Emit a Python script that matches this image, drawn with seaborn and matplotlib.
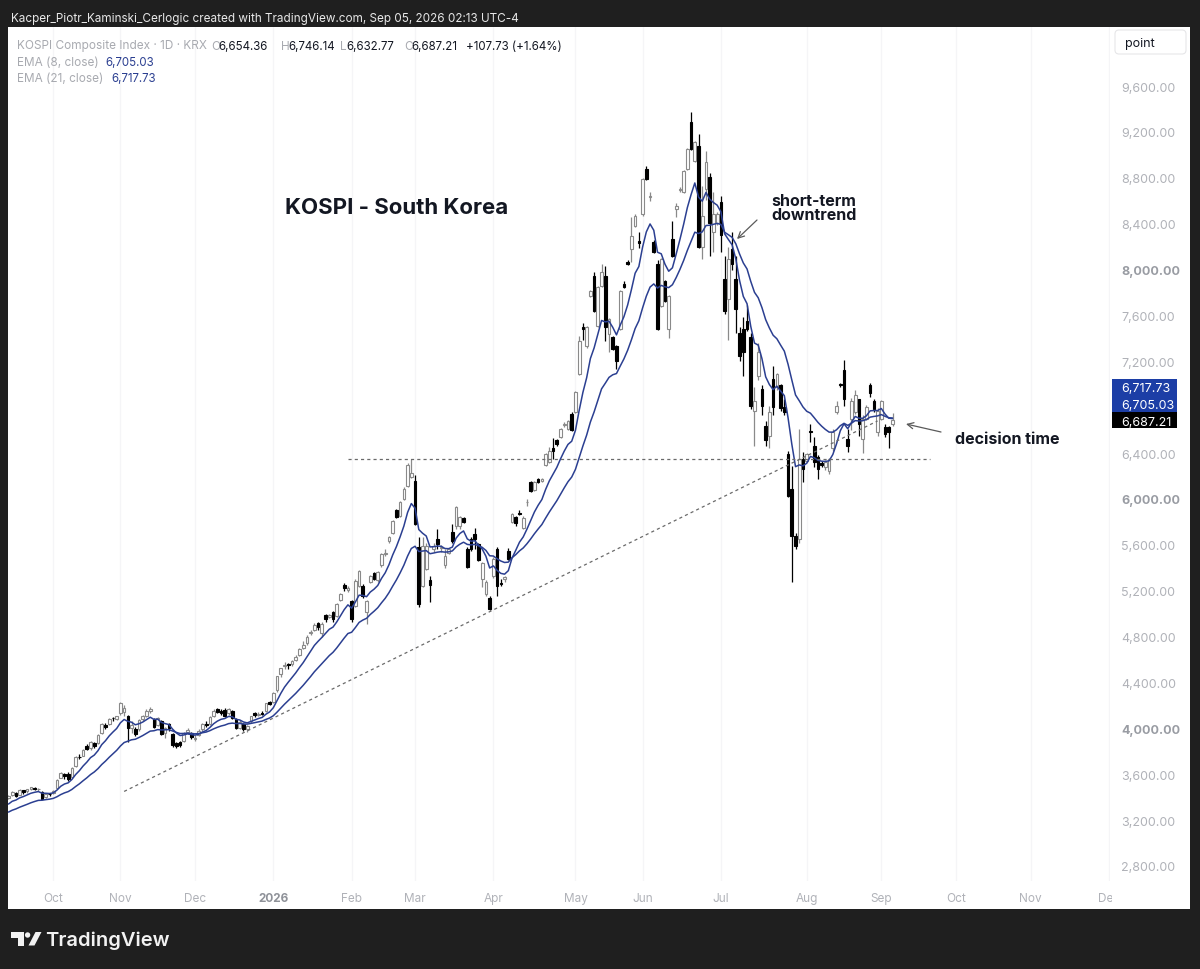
import numpy as np
import pandas as pd
import matplotlib
matplotlib.use("Agg")
import matplotlib.pyplot as plt
import seaborn as sns
from matplotlib.patches import Rectangle, Circle, Polygon, FancyBboxPatch
from matplotlib.transforms import IdentityTransform

W, H = 1200, 970

# ---------------- data ----------------
start_date = "2025-09-15"
axis_end_date = "2026-12-31"
krx_holidays = ["2025-10-03", "2025-10-06", "2025-10-07", "2025-10-08", "2025-10-09",
                "2025-12-25", "2025-12-31", "2026-01-01", "2026-02-16", "2026-02-17",
                "2026-02-18", "2026-03-02", "2026-05-01", "2026-05-05", "2026-05-25",
                "2026-06-03", "2026-08-17", "2026-09-24", "2026-09-25", "2026-10-05",
                "2026-10-09", "2026-12-25", "2026-12-31"]

opens = [3390, 3420, 3440, 3420, 3460, 3450, 3475, 3480, 3470, 3445, 3400, 3430,
         3440, 3480, 3570, 3600, 3600, 3580, 3670, 3750, 3760, 3850, 3830, 3870, 3870, 3960, 4030, 4040, 4090, 4080,
         4130, 4140, 4110, 4000, 3990, 3990, 4080, 4110, 4150, 4080, 4030, 4060, 3960, 4040, 3950, 3870, 3880, 3890, 3970, 3960,
         3910, 3940, 3990, 4040, 4040, 4110, 4170, 4150, 4160, 4130, 4150, 4080, 4000, 4040, 3990, 4060, 4130, 4120, 4135, 4150, 4230,
         4230, 4330, 4470, 4540, 4560, 4560, 4600, 4640, 4700, 4740, 4830, 4860, 4920, 4830, 4990, 4970, 5010, 4980, 5120, 5250, 5210,
         5110, 5070, 5240, 5240, 5010, 5280, 5350, 5290, 5420, 5520, 5630, 5700, 5900, 5850, 6000, 6110, 6190,
         6160, 5580, 5240, 5390, 5290, 5560, 5650, 5570, 5420, 5530, 5710, 5760, 5760, 5830, 5560, 5650, 5690, 5610, 5300, 5170, 5140,
         5330, 5560, 5270, 5300, 5550, 5800, 5840, 5880, 5750, 5970, 6150, 6080, 6170, 6160, 6300, 6320, 6440, 6510, 6540, 6645, 6610, 6740,
         6760, 7090, 7500, 7330, 7770, 7940, 7510, 7860, 7940, 7440, 7410, 7330, 7480, 7870, 8070, 8180, 8380, 8250,
         8480, 8880, 8630, 8240, 8050, 7680, 7900, 7480, 8270, 8530, 8695, 8680, 8880, 9290, 8950, 9080, 8200, 8700, 8810, 8330, 8410,
         8590, 7920, 7740, 8180, 7920, 7450, 7480, 7550, 7410, 6770, 7070, 6960, 6640, 6550, 7050, 6980, 6990, 6800, 6390, 6090, 5680, 5650, 6350,
         6330, 6590, 6460, 6370, 6310, 6280, 6240, 6440, 6760, 7000, 7120, 6520, 6700, 6760, 6870, 6520, 6700, 6990, 6850, 6580,
         6700, 6630, 6630, 6654.36]
highs = [3415, 3450, 3445, 3470, 3465, 3470, 3490, 3485, 3480, 3450, 3440, 3440,
         3460, 3560, 3620, 3610, 3620, 3665, 3755, 3775, 3820, 3860, 3890, 3880, 3950, 4050, 4050, 4090, 4100, 4110,
         4230, 4200, 4120, 4060, 4010, 4080, 4120, 4170, 4190, 4090, 4100, 4070, 4010, 4050, 3960, 3880, 3890, 3970, 4000, 3970,
         3940, 3990, 4045, 4060, 4110, 4165, 4180, 4170, 4175, 4180, 4160, 4090, 4070, 4050, 4030, 4110, 4140, 4140, 4150, 4225, 4240,
         4320, 4460, 4530, 4580, 4570, 4600, 4640, 4700, 4760, 4810, 4860, 4920, 4930, 4930, 5000, 5000, 5020, 5090, 5180, 5270, 5240,
         5120, 5300, 5380, 5260, 5120, 5340, 5360, 5370, 5530, 5560, 5680, 5820, 5910, 5980, 6100, 6310, 6350,
         6210, 5670, 5670, 5620, 5330, 5620, 5740, 5600, 5560, 5570, 5780, 5940, 5850, 5840, 5580, 5670, 5750, 5620, 5450, 5290, 5150,
         5490, 5580, 5300, 5330, 5570, 5880, 5850, 5900, 5850, 6000, 6160, 6160, 6180, 6180, 6400, 6450, 6530, 6520, 6620, 6670, 6690, 6760,
         6940, 7420, 7530, 7510, 7820, 7980, 7860, 8050, 8030, 7580, 7420, 7340, 7820, 7900, 8080, 8460, 8480, 8330,
         8800, 8900, 8680, 8260, 8080, 8100, 7910, 7780, 8420, 8580, 8720, 8870, 9060, 9370, 9120, 9180, 8730, 9030, 8840, 8680, 8500,
         8640, 8120, 8200, 8330, 8120, 7500, 7590, 7690, 7450, 6980, 7360, 6990, 6680, 6810, 7160, 7100, 7000, 6870, 6420, 6290, 5700, 6610, 6410,
         6400, 6650, 6540, 6380, 6330, 6340, 6360, 6610, 6850, 7010, 7210, 6610, 6880, 6950, 6870, 6730, 6820, 7010, 6870, 6790,
         6860, 6650, 6640, 6746.14]
lows = [3385, 3410, 3400, 3415, 3430, 3440, 3460, 3460, 3455, 3380, 3395, 3410,
        3430, 3475, 3565, 3560, 3540, 3575, 3665, 3730, 3755, 3810, 3815, 3830, 3860, 3955, 3990, 4030, 4060, 4070,
        4120, 4110, 3880, 3960, 3930, 3980, 4060, 4100, 4130, 4000, 4020, 3940, 3920, 3980, 3840, 3830, 3840, 3880, 3950, 3910,
        3890, 3930, 3980, 4010, 4030, 4100, 4130, 4120, 4100, 4120, 4080, 3990, 3990, 3980, 3970, 4050, 4100, 4110, 4120, 4140, 4200,
        4220, 4320, 4450, 4520, 4520, 4540, 4590, 4630, 4690, 4730, 4810, 4850, 4860, 4800, 4930, 4960, 4930, 4970, 5110, 5200, 5190,
        4930, 5060, 5230, 5140, 4910, 5270, 5290, 5280, 5410, 5500, 5620, 5690, 5830, 5840, 5990, 6100, 6180,
        5770, 5060, 5230, 5380, 5100, 5540, 5560, 5540, 5400, 5520, 5620, 5740, 5740, 5790, 5400, 5550, 5560, 5460, 5230, 5150, 5030,
        5310, 5150, 5240, 5280, 5470, 5790, 5760, 5860, 5740, 5940, 6060, 6070, 6140, 6150, 6290, 6310, 6350, 6460, 6530, 6630, 6600, 6590,
        6750, 7080, 7390, 7320, 7760, 7630, 7500, 7850, 7380, 7280, 7300, 7130, 7470, 7840, 8040, 8070, 8370, 8190,
        8470, 8780, 8600, 8140, 7470, 7670, 7720, 7400, 8110, 8460, 8680, 8670, 8870, 9040, 8940, 8190, 8090, 8610, 8120, 8150, 8390,
        8150, 7610, 7390, 8000, 7450, 7200, 7070, 7460, 6780, 6460, 7040, 6730, 6460, 6440, 6730, 6950, 6770, 6730, 6020, 5280, 5560, 5620, 6150,
        6320, 6500, 6280, 6170, 6280, 6250, 6220, 6420, 6740, 6980, 6810, 6410, 6600, 6740, 6550, 6400, 6690, 6890, 6760, 6550,
        6690, 6540, 6440, 6632.77]
closes = [3407, 3449, 3413, 3461, 3445, 3468, 3486, 3472, 3471, 3386, 3431, 3424,
          3455, 3549, 3610, 3584, 3561, 3657, 3748, 3748, 3814, 3823, 3883, 3845, 3941, 4042, 4010, 4081, 4086, 4107,
          4221, 4180, 4004, 4026, 3953, 4073, 4106, 4150, 4170, 4011, 4089, 3953, 4004, 4004, 3853, 3846, 3857, 3960, 3986, 3926,
          3920, 3977, 4036, 4028, 4100, 4154, 4143, 4135, 4110, 4167, 4090, 3999, 4056, 3994, 4020, 4105, 4117, 4129, 4129, 4220, 4214,
          4309, 4457, 4525, 4551, 4552, 4586, 4624, 4692, 4723, 4797, 4840, 4904, 4885, 4909, 4952, 4990, 4949, 5084, 5170, 5221, 5224,
          4949, 5288, 5370, 5150, 5110, 5330, 5300, 5360, 5520, 5530, 5670, 5810, 5840, 5970, 6090, 6300, 6230,
          5780, 5080, 5590, 5590, 5250, 5590, 5610, 5580, 5500, 5560, 5630, 5930, 5840, 5800, 5410, 5560, 5650, 5470, 5440, 5280, 5040,
          5480, 5240, 5260, 5320, 5480, 5870, 5790, 5870, 5830, 5975, 6070, 6150, 6150, 6170, 6390, 6420, 6420, 6480, 6610, 6655, 6680, 6600,
          6930, 7380, 7480, 7500, 7810, 7640, 7850, 7980, 7500, 7570, 7310, 7200, 7810, 7850, 8050, 8290, 8470, 8230,
          8790, 8790, 8640, 8150, 7480, 8090, 7730, 7770, 8120, 8550, 8705, 8860, 9050, 9050, 9110, 8200, 8470, 8940, 8410, 8480, 8480,
          8300, 7640, 8090, 8050, 7660, 7250, 7280, 7480, 6810, 6850, 7280, 6810, 6510, 6760, 6800, 7090, 6790, 6760, 6030, 5680, 5590, 6350, 6260,
          6390, 6580, 6320, 6260, 6300, 6320, 6350, 6580, 6810, 6990, 6870, 6460, 6850, 6910, 6650, 6700, 6800, 6920, 6780, 6770,
          6850, 6570, 6579.48, 6687.21]

ema8_seed = 3340.0      # EMA(8) value on the first visible bar
ema21_seed = 3270.0     # EMA(21) value on the first visible bar

price_ticks = list(range(2800, 9601, 400))

legend_symbol = "KOSPI Composite Index · 1D · KRX"
legend_ohlc = [("O", "6,654.36"), ("H", "6,746.14"), ("L", "6,632.77"), ("C", "6,687.21")]
legend_change = "+107.73 (+1.64%)"
ema8_value_text = "6,705.03"
ema21_value_text = "6,717.73"

support_level = 6350
support_from, support_to = "2026-01-30", "2026-09-18"
trend_from = ("2025-11-04", 3450)
trend_to = ("2026-08-31", 6680)

# ---------------- derived ----------------
dates_all = pd.bdate_range(start_date, axis_end_date, freq="C", holidays=krx_holidays)
n = len(closes)
pos = {d: i for i, d in enumerate(dates_all)}
def idx(s):
    return pos[pd.Timestamp(s)]

o = np.array(opens, float); h = np.array(highs, float)
l = np.array(lows, float); c = np.array(closes, float)
x = np.arange(n)

def ema(values, seed, span):
    a = 2.0 / (span + 1)
    out = np.empty(len(values))
    out[0] = seed
    for i in range(1, len(values)):
        out[i] = a * values[i] + (1 - a) * out[i - 1]
    return out

ema8 = ema(c, ema8_seed, 8)
ema21 = ema(c, ema21_seed, 21)

months = dates_all.to_period("M")
tick_idx = [i for i in range(1, len(dates_all)) if months[i] != months[i - 1]]
tick_lab = ["2026" if dates_all[i].month == 1 else dates_all[i].strftime("%b") for i in tick_idx]

# ---------------- style ----------------
sns.set_theme(style="white")
plt.rcParams["font.family"] = ["Inter", "DejaVu Sans"]

FRAME = "#1f1f1f"
UP_EDGE = "#8a8a8a"
EMA_COLOR = "#2b3f91"
TAG_BLUE = "#1c3ea6"
AX_GRAY = "#b0b2b8"
AX_GRAY_BOLD = "#999ca3"
HDR_GRAY = "#a8aab0"
INK = "#131722"

fig = plt.figure(figsize=(12, 9.7), dpi=100, facecolor=FRAME)
panel = Rectangle((8 / W, 1 - 910 / H), 1182 / W, 882 / H, transform=fig.transFigure,
                  facecolor="white", edgecolor="none", zorder=-5)
fig.patches.append(panel)

ax = fig.add_axes([8 / W, 1 - 882 / H, 1102 / W, 854 / H])
ax.set_facecolor("none")
for s in ax.spines.values():
    s.set_visible(False)

# candles
up = c >= o
wick_cols = [UP_EDGE if u else "black" for u in up]
ax.vlines(x, l, h, colors=wick_cols, lw=0.9, zorder=2)
ax.bar(x, np.abs(c - o), bottom=np.minimum(o, c), width=0.72,
       color=["white" if u else "black" for u in up],
       edgecolor=[UP_EDGE if u else "black" for u in up], linewidth=0.8, zorder=3)

# EMAs through seaborn
ema_df = pd.DataFrame({"bar": np.r_[x, x], "value": np.r_[ema8, ema21],
                       "ema": ["EMA 8"] * n + ["EMA 21"] * n})
sns.lineplot(data=ema_df, x="bar", y="value", hue="ema",
             palette={"EMA 8": EMA_COLOR, "EMA 21": EMA_COLOR},
             lw=1.1, legend=False, ax=ax, zorder=4)

# drawings
ax.plot([idx(support_from), idx(support_to)], [support_level, support_level],
        ls=(0, (2.5, 2.5)), color="#6a6a6a", lw=0.9, zorder=5)
ax.plot([idx(trend_from[0]), idx(trend_to[0])], [trend_from[1], trend_to[1]],
        ls=(0, (2.5, 2.5)), color="#6a6a6a", lw=0.9, zorder=5)

ax.set_xlim(-0.13, 295.31)
ax.set_ylim(2669.2, 10114.4)
ax.set_xlabel(""); ax.set_ylabel("")

# price scale; tags below cover the level next to the last price, as in TradingView
y_close_val = c[-1]
shown_ticks = [v for v in price_ticks if abs(v - y_close_val) > 150]
ax.yaxis.tick_right()
ax.set_yticks(shown_ticks)
ax.set_yticklabels([f"{v:,.2f}" for v in shown_ticks])
ax.tick_params(axis="y", length=0, pad=8, labelsize=9, labelcolor=AX_GRAY)
for lbl, v in zip(ax.get_yticklabels(), shown_ticks):
    if v % 2000 == 0:
        lbl.set_fontweight("bold"); lbl.set_color(AX_GRAY_BOLD)

ax.set_xticks(tick_idx)
ax.set_xticklabels(tick_lab)
ax.tick_params(axis="x", length=0, pad=8, labelsize=8.5, labelcolor=AX_GRAY)
for lbl, t in zip(ax.get_xticklabels(), tick_lab):
    if t == "2026":
        lbl.set_fontweight("bold"); lbl.set_color("#8f9299")
ax.grid(True, axis="x", color="#f5f5f7", lw=1)
ax.grid(False, axis="y")
ax.set_axisbelow(True)

# cover overflow of the last month label into price scale
fig.add_artist(Rectangle((1112, H - 909), 77, 26, transform=IdentityTransform(),
                         facecolor="white", edgecolor="none", zorder=4))

# ---------------- texts ----------------
def ftxt(px, py, s, **kw):
    return fig.text(px / W, 1 - py / H, s, **kw)

ftxt(11, 22, "Kacper_Piotr_Kaminski_Cerlogic created with TradingView.com, Sep 05, 2026 02:13 UTC-4",
     color="#e8e8e8", fontsize=8.45, va="baseline", ha="left")

hdr_size = 8.5
val_size = 8.3
ftxt(17, 49.5, legend_symbol, color=HDR_GRAY, fontsize=hdr_size, va="baseline")
for (letter, val), lx, vx in zip(legend_ohlc, [211, 281, 340, 404], [218.5, 288, 346, 411]):
    ftxt(lx, 49.5, letter, color=HDR_GRAY, fontsize=hdr_size, va="baseline")
    ftxt(vx, 49.5, val, color=INK, fontsize=val_size, va="baseline")
ftxt(466, 49.5, legend_change, color=INK, fontsize=val_size, va="baseline")
ftxt(17, 65.5, "EMA (8, close)", color=HDR_GRAY, fontsize=hdr_size, va="baseline")
ftxt(105, 65.5, ema8_value_text, color=EMA_COLOR, fontsize=val_size, va="baseline")
ftxt(17, 82, "EMA (21, close)", color=HDR_GRAY, fontsize=hdr_size, va="baseline")
ftxt(111, 82, ema21_value_text, color=EMA_COLOR, fontsize=val_size, va="baseline")

ftxt(285, 214, "KOSPI - South Korea", color=INK, fontsize=16, fontweight="bold", va="baseline")
ftxt(771, 206, "short-term", color=INK, fontsize=11.5, fontweight="bold", va="baseline")
ftxt(771, 220, "downtrend", color=INK, fontsize=11.5, fontweight="bold", va="baseline")
ftxt(955, 444, "decision time", color=INK, fontsize=11.5, fontweight="bold", va="baseline")

arrow_kw = dict(arrowstyle="->", color="#5a5a5a", lw=0.9, shrinkA=0, shrinkB=0, mutation_scale=11)
ax.annotate("", xy=(737, H - 240), xytext=(757, H - 221), xycoords="figure pixels",
            textcoords="figure pixels", arrowprops=arrow_kw, annotation_clip=False)
ax.annotate("", xy=(906, H - 425), xytext=(941, H - 433), xycoords="figure pixels",
            textcoords="figure pixels", arrowprops=arrow_kw, annotation_clip=False)

# price tags on the scale
y_close = ax.transData.transform((0, c[-1]))[1]
tag_h = 16.6
tags = [(ema21_value_text, TAG_BLUE, 2), (ema8_value_text, TAG_BLUE, 1), (f"{c[-1]:,.2f}", "black", 0)]
for text, col, k in tags:
    yc = y_close + k * tag_h
    fig.add_artist(Rectangle((1112, yc - tag_h / 2), 65, tag_h, transform=IdentityTransform(),
                             facecolor=col, edgecolor="none", zorder=6))
    fig.text(1121 / W, yc / H, text, color="white", fontsize=9, ha="left",
             va="center_baseline", zorder=7)

# "point" button
fig.add_artist(FancyBboxPatch((1115, H - 55), 71, 24, boxstyle="round,pad=0,rounding_size=4",
                              transform=IdentityTransform(), facecolor="white",
                              edgecolor="#e6e6e8", lw=0.8, zorder=6))
ftxt(1125, 47.5, "point", color=INK, fontsize=9, va="baseline", zorder=7)

# TradingView logo
logo_col = "#f2f2f2"
fig.add_artist(Rectangle((11, H - 938.5), 13, 5.5, transform=IdentityTransform(),
                         facecolor=logo_col, edgecolor="none", zorder=6))
fig.add_artist(Rectangle((17.5, H - 946.5), 6.5, 13.5, transform=IdentityTransform(),
                         facecolor=logo_col, edgecolor="none", zorder=6))
fig.add_artist(Circle((27.6, H - 936), 2.7, transform=IdentityTransform(),
                      facecolor=logo_col, edgecolor="none", zorder=6))
fig.add_artist(Polygon([(28.5, H - 946.5), (34.5, H - 946.5), (41.5, H - 933), (35.5, H - 933)],
                       closed=True, transform=IdentityTransform(),
                       facecolor=logo_col, edgecolor="none", zorder=6))
ftxt(45, 946, "TradingView", color=logo_col, fontsize=14.5, fontweight="semibold", va="baseline")

fig.savefig("out.png", dpi=100, facecolor=FRAME)
